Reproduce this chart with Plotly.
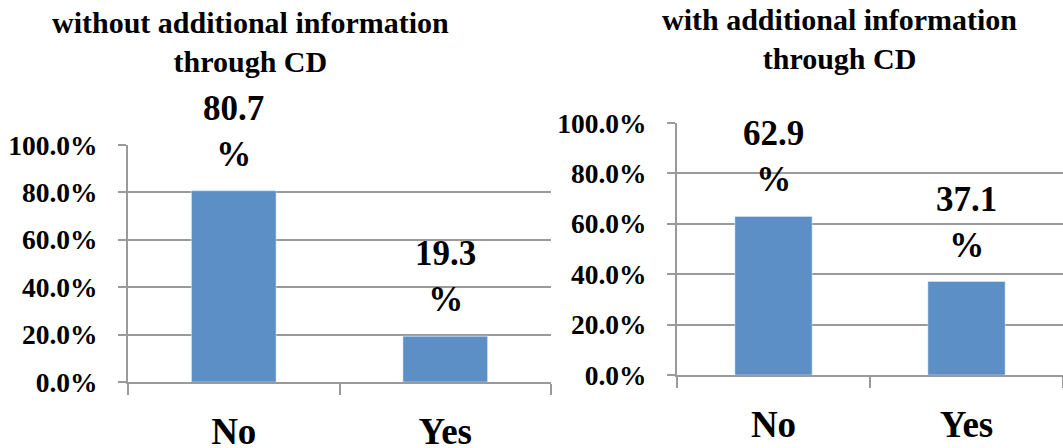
import plotly.graph_objects as go

categories = ["No", "Yes"]
without_cd = [0.807, 0.193]
with_cd = [0.629, 0.371]
titles = ["without additional information<br>through CD", "with additional information<br>through CD"]
y_ticks = [0, 0.2, 0.4, 0.6, 0.8, 1.0]

W, H = 1063, 448
BAR = "#5B8FC6"
GRID = "#9a9a9a"
SERIF = "Liberation Serif, Times New Roman, serif"

fig = go.Figure()
fig.add_trace(go.Bar(x=categories, y=without_cd, marker_color=BAR, width=0.4,
                     xaxis="x", yaxis="y", showlegend=False))
fig.add_trace(go.Bar(x=categories, y=with_cd, marker_color=BAR, width=0.4,
                     xaxis="x2", yaxis="y2", showlegend=False))

def xax(domain, anchor):
    return dict(domain=domain, anchor=anchor, showline=True, linecolor=GRID, linewidth=2,
                ticks="outside", tickson="boundaries", ticklen=11, tickwidth=2, tickcolor=GRID,
                tickfont=dict(family=SERIF, size=37, color="black", weight="bold"),
                ticklabelstandoff=16, showgrid=False, fixedrange=True, automargin=False)

def yax(domain, anchor):
    return dict(domain=domain, anchor=anchor, range=[0, 1], tickvals=y_ticks, tickformat=".1%",
                showline=True, linecolor=GRID, linewidth=2, showgrid=True, gridcolor=GRID,
                gridwidth=2, zeroline=False, ticks="outside", ticklen=8, tickwidth=2,
                tickcolor=GRID, ticklabelstandoff=15, automargin=False,
                tickfont=dict(family=SERIF, size=27.5, color="black", weight="bold"), fixedrange=True)

fig.update_layout(
    width=W, height=H, margin=dict(l=0, r=0, t=0, b=0, autoexpand=False),
    paper_bgcolor="white", plot_bgcolor="white",
    xaxis=xax([128 / W, 551 / W], "y"),
    yaxis=yax([66 / H, 303 / H], "x"),
    xaxis2=xax([677 / W, 1.0], "y2"),
    yaxis2=yax([73 / H, 325 / H], "x2"),
)

anns = []
for vals, xr, yr in [(without_cd, "x", "y"), (with_cd, "x2", "y2")]:
    for c, v in zip(categories, vals):
        anns.append(dict(x=c, y=v, xref=xr, yref=yr, text=f"{v * 100:.1f}<br>%",
                         showarrow=False, yanchor="bottom", yshift=15,
                         font=dict(family=SERIF, size=35, color="black", weight="bold")))

anns.append(dict(x=250 / W, y=1 - 4 / H, xref="paper", yref="paper", text=titles[0],
                 showarrow=False, xanchor="center", yanchor="top",
                 font=dict(family=SERIF, size=30, color="black", weight="bold")))
anns.append(dict(x=839 / W, y=1 - 1 / H, xref="paper", yref="paper", text=titles[1],
                 showarrow=False, xanchor="center", yanchor="top",
                 font=dict(family=SERIF, size=30, color="black", weight="bold")))
fig.update_layout(annotations=anns)

fig.write_html("out.html")
